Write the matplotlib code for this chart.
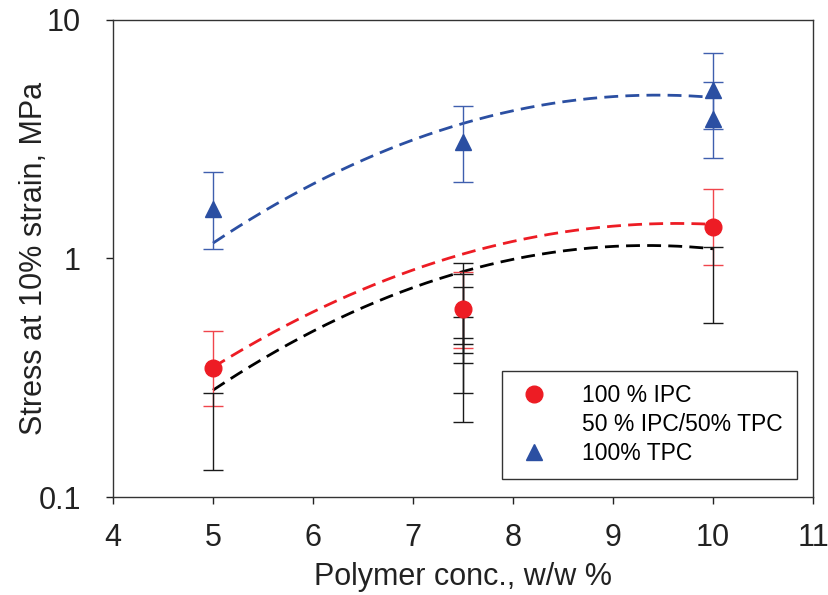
import numpy as np
import matplotlib
matplotlib.use('Agg')
import matplotlib.pyplot as plt
from matplotlib.lines import Line2D

plt.rcParams['font.family'] = ['Liberation Sans', 'DejaVu Sans']

x_ipc = [5, 7.5, 10]
ipc = [0.349, 0.617, 1.35]
ipc_lo = [0.240, 0.423, 0.935]
ipc_hi = [0.499, 0.882, 1.95]

x_mix = [5, 7.5, 7.5, 7.5, 7.5, 7.5, 10]
mix = [0.19, 0.44, 0.48, 0.53, 0.48, 0.45, 0.77]
mix_lo = [0.130, 0.207, 0.274, 0.363, 0.403, 0.436, 0.534]
mix_hi = [0.274, 0.953, 0.857, 0.763, 0.571, 0.462, 1.12]

x_tpc = [5, 7.5, 10, 10]
tpc = [1.62, 3.07, 5.11, 3.83]
tpc_lo = [1.10, 2.09, 3.50, 2.63]
tpc_hi = [2.30, 4.35, 7.29, 5.49]

# dashed trend lines, values read at these x positions
trend_x = [5, 6, 7, 8, 9, 10]
trend_ipc = [0.35, 0.60, 0.88, 1.20, 1.36, 1.39]
trend_mix = [0.270, 0.53, 0.76, 0.95, 1.11, 1.12]
trend_tpc = [1.15, 2.08, 3.16, 4.13, 4.73, 4.77]

red = '#ED1C24'
blue = '#2B4FA2'

fig = plt.figure(figsize=(8.29, 5.95), dpi=100)
ax = fig.add_axes([0.1363, 0.1647, 0.8444, 0.8017])

def err(m, lo, hi):
    m = np.array(m); return [m - np.array(lo), np.array(hi) - m]

xs = np.linspace(5, 10, 200)
for tv, c in [(trend_ipc, red), (trend_mix, 'black'), (trend_tpc, blue)]:
    p = np.polyfit(trend_x, np.log10(tv), 2)
    ax.plot(xs, 10 ** np.polyval(p, xs), color=c, lw=2.0, dashes=(5, 2.6), zorder=2)

ax.errorbar(x_ipc, ipc, yerr=err(ipc, ipc_lo, ipc_hi), fmt='none', ecolor='#F0454C',
            elinewidth=1.0, capsize=7, capthick=1.0, zorder=3)
ax.errorbar(x_mix, mix, yerr=err(mix, mix_lo, mix_hi), fmt='none', ecolor='#1a1a1a',
            elinewidth=1.0, capsize=7, capthick=1.0, zorder=4)
ax.errorbar(x_tpc, tpc, yerr=err(tpc, tpc_lo, tpc_hi), fmt='none', ecolor='#3F5FAE',
            elinewidth=1.0, capsize=7, capthick=1.0, zorder=4)
ax.plot(x_ipc, ipc, 'o', color=red, ms=12, zorder=5)
ax.plot(x_tpc, tpc, '^', color=blue, ms=11, zorder=5)

ax.set_yscale('log')
ax.set_xlim(4, 11)
ax.set_ylim(0.1, 10)
ax.set_yticks([0.1, 1, 10])
ax.set_yticklabels(['0.1', '1', '10'])
ax.yaxis.set_minor_locator(matplotlib.ticker.NullLocator())
ax.set_xticks(range(4, 12))
ax.tick_params(direction='out', length=5, width=1, labelsize=22, colors='#222222')
ax.tick_params(axis='x', pad=14)
ax.tick_params(axis='y', pad=18)
for s in ax.spines.values():
    s.set_color('#333333')
    s.set_linewidth(1.0)

ax.set_xlabel('Polymer conc., w/w %', fontsize=22, labelpad=6, color='#222222')
ax.set_ylabel('Stress at 10% strain, MPa', fontsize=22, color='#222222')
ax.yaxis.set_label_coords(-0.092, 0.5)

handles = [Line2D([], [], marker='o', color=red, ls='none', ms=12),
           Line2D([], [], marker='o', color='white', ls='none', ms=12),
           Line2D([], [], marker='^', color=blue, ls='none', ms=11)]
leg = ax.legend(handles, ['100 % IPC', '50 % IPC/50% TPC', '100% TPC'],
                loc='upper left', bbox_to_anchor=(0.556, 0.265), fontsize=16.5,
                frameon=True, fancybox=False, edgecolor='#333333', framealpha=1,
                borderpad=0.6, labelspacing=0.25, handletextpad=1.3, borderaxespad=0,
                handlelength=1.6)
leg.get_frame().set_linewidth(1.0)

fig.savefig('out.png', dpi=100)
